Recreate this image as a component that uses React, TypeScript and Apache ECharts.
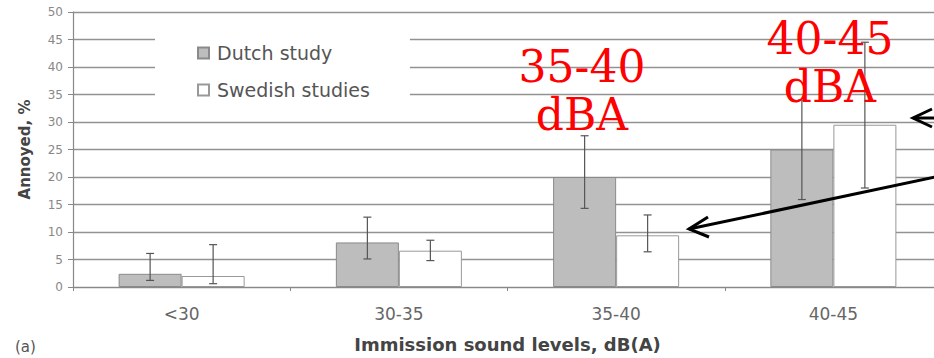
import React, { useEffect, useRef } from "react";
import * as echarts from "echarts";

const categories = ["<30", "30-35", "35-40", "40-45"];
const dutch = [2.4, 8.1, 20.0, 25.0];
const dutchLow = [1.2, 5.1, 14.3, 15.9];
const dutchHigh = [6.1, 12.7, 27.5, 34.0];
const swedish = [2.0, 6.6, 9.4, 29.5];
const swedishLow = [0.6, 4.8, 6.4, 18.0];
const swedishHigh = [7.7, 8.5, 13.1, 44.5];
const yTicks = [0, 5, 10, 15, 20, 25, 30, 35, 40, 45, 50];

const BAR_FRAC = 0.29;
const SANS = '"DejaVu Sans", sans-serif';

function errorSeries(low: number[], high: number[], side: number) {
  return {
    type: "custom",
    z: 5,
    silent: true,
    data: low.map((l, i) => [i, l, high[i]]),
    encode: { x: 0, y: [1, 2] },
    renderItem: (params: any, api: any) => {
      const idx = api.value(0);
      const band = api.size([1, 0])[0];
      const off = (side * band * BAR_FRAC) / 2;
      const lo = api.coord([idx, api.value(1)]);
      const hi = api.coord([idx, api.value(2)]);
      const x = lo[0] + off;
      const cap = 4;
      const style = { stroke: "#555", lineWidth: 1.2 };
      return {
        type: "group",
        children: [
          { type: "line", shape: { x1: x, y1: lo[1], x2: x, y2: hi[1] }, style },
          { type: "line", shape: { x1: x - cap, y1: lo[1], x2: x + cap, y2: lo[1] }, style },
          { type: "line", shape: { x1: x - cap, y1: hi[1], x2: x + cap, y2: hi[1] }, style },
        ],
      };
    },
  };
}

export default function App() {
  const ref = useRef<HTMLDivElement>(null);
  useEffect(() => {
    if (!ref.current) return;
    const chart = echarts.init(ref.current, null, { renderer: "svg" });
    const redText = {
      fill: "#ff0000",
      font: '44px "DejaVu Serif", serif',
      textAlign: "center",
      textVerticalAlign: "top",
      lineHeight: 48,
    };
    chart.setOption({
      animation: false,
      backgroundColor: "#ffffff",
      textStyle: { fontFamily: SANS },
      grid: { left: 73, top: 12, width: 869, height: 278, containLabel: false },
      legend: {
        orient: "vertical",
        left: 155,
        top: 30,
        backgroundColor: "#ffffff",
        padding: [12, 40, 9, 42],
        itemGap: 15,
        itemWidth: 11,
        itemHeight: 11,
        icon: "rect",
        textStyle: { fontSize: 19, color: "#555", lineHeight: 22, fontFamily: SANS, padding: [0, 0, 0, 3] },
        data: ["Dutch study", "Swedish studies"],
      },
      xAxis: {
        type: "category",
        data: categories,
        name: "Immission sound levels, dB(A)",
        nameLocation: "middle",
        nameGap: 48,
        nameTextStyle: { fontSize: 18, fontWeight: "bold", color: "#444", fontFamily: SANS },
        axisLine: { lineStyle: { color: "#888", width: 1.2 } },
        axisTick: { show: true, length: 4, lineStyle: { color: "#888" } },
        axisLabel: { fontSize: 17, color: "#666", margin: 18, fontFamily: SANS },
      },
      yAxis: {
        type: "value",
        min: 0,
        max: 50,
        interval: 5,
        name: "Annoyed, %",
        nameLocation: "middle",
        nameGap: 41,
        nameTextStyle: { fontSize: 15, fontWeight: "bold", color: "#444", fontFamily: SANS },
        axisLine: { show: true, lineStyle: { color: "#888", width: 1.2 } },
        axisTick: { show: true, length: 5, lineStyle: { color: "#888" } },
        axisLabel: {
          fontSize: 12,
          color: "#888",
          margin: 10,
          fontFamily: SANS,
          formatter: (v: number) => (yTicks.includes(v) ? String(v) : ""),
        },
        splitLine: { lineStyle: { color: "#929292", width: 1.4 } },
      },
      series: [
        {
          name: "Dutch study",
          type: "bar",
          data: dutch,
          barWidth: BAR_FRAC * 100 + "%",
          barGap: "0%",
          itemStyle: { color: "#bdbdbd", borderColor: "#8a8a8a", borderWidth: 1 },
        },
        {
          name: "Swedish studies",
          type: "bar",
          data: swedish,
          barWidth: BAR_FRAC * 100 + "%",
          barGap: "0%",
          itemStyle: { color: "#ffffff", borderColor: "#999", borderWidth: 1 },
        },
        errorSeries(dutchLow, dutchHigh, -1),
        errorSeries(swedishLow, swedishHigh, 1),
      ],
      graphic: [
        { type: "text", left: 15, top: 339, style: { text: "(a)", fill: "#555", font: '15px "DejaVu Sans", sans-serif' } },
        { type: "text", x: 582, y: 42, z: 100, style: { ...redText, text: "35-40\ndBA" } },
        { type: "text", x: 830, y: 14, z: 100, style: { ...redText, text: "40-45\ndBA" } },
        { type: "line", z: 100, shape: { x1: 945, y1: 175, x2: 689, y2: 229 }, style: { stroke: "#000", lineWidth: 3 } },
        { type: "polyline", z: 100, shape: { points: [[708, 217], [689, 229], [709, 237]] }, style: { stroke: "#000", lineWidth: 3, fill: null } },
        { type: "line", z: 100, shape: { x1: 945, y1: 118, x2: 913, y2: 118 }, style: { stroke: "#000", lineWidth: 3 } },
        { type: "polyline", z: 100, shape: { points: [[932, 109], [913, 118], [932, 127]] }, style: { stroke: "#000", lineWidth: 3, fill: null } },
      ],
    });
    return () => chart.dispose();
  }, []);
  return (
    <div style={{ position: "absolute", left: 0, top: 0, width: 934, height: 358, overflow: "hidden" }}>
      <div ref={ref} style={{ width: 960, height: 358 }} />
    </div>
  );
}
